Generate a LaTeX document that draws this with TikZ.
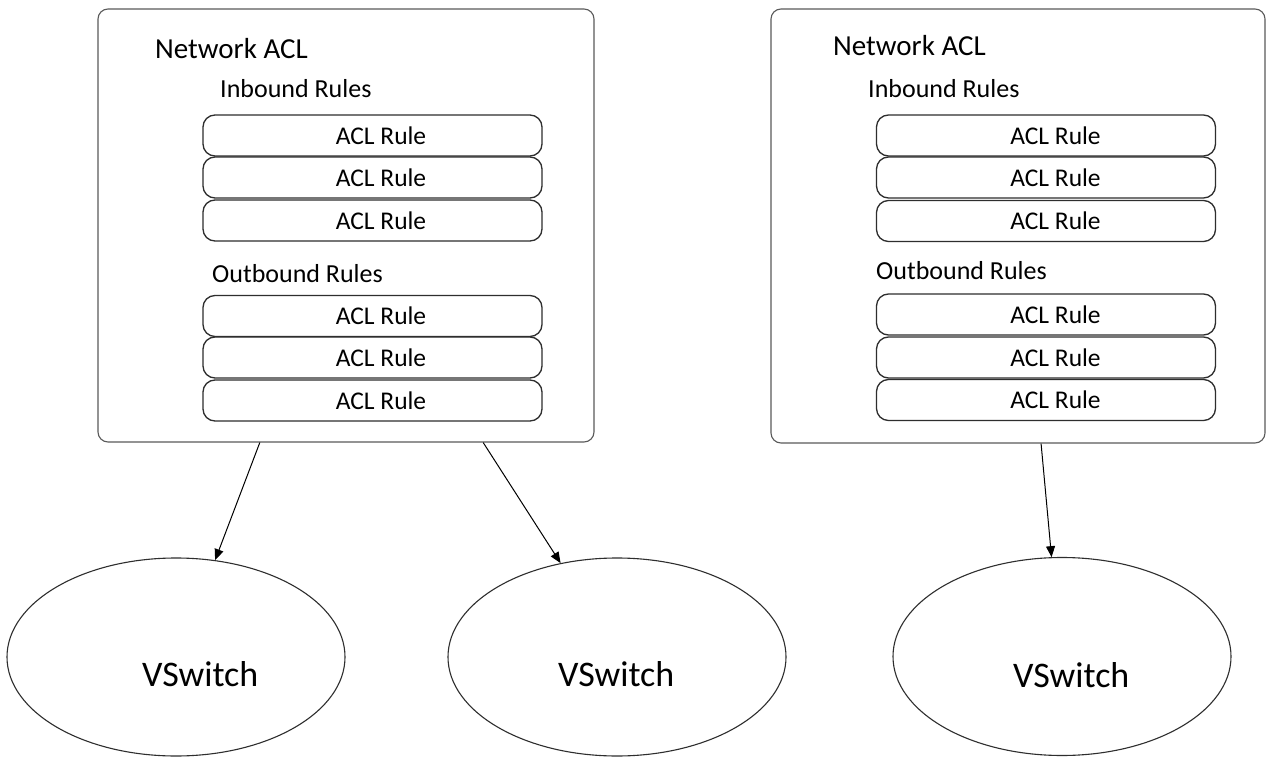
\documentclass[tikz,border=0pt]{standalone}
\usepackage{fontspec}
\setmainfont{Carlito}
\usetikzlibrary{arrows.meta,shapes.geometric,calc}
\definecolor{outerline}{HTML}{5A5A5A}
\definecolor{ruleline}{HTML}{2E2E2E}
\tikzset{
  aclbox/.style={draw=outerline, line width=1.1pt, rounded corners=10pt, inner sep=0pt},
  rulebox/.style={draw=ruleline, line width=1.3pt, rounded corners=12pt, minimum width=339pt, minimum height=41pt, inner sep=0pt, font=\fontsize{25.5}{28}\selectfont},
  titletext/.style={anchor=base west, inner sep=0pt, font=\fontsize{29}{33}\selectfont},
  sectext/.style={anchor=base west, inner sep=0pt, font=\fontsize{26}{29}\selectfont},
  switch/.style={ellipse, draw=ruleline, line width=1.1pt, minimum width=338pt, minimum height=198pt, inner sep=0pt},
  switchtext/.style={anchor=base west, inner sep=0pt, font=\fontsize{36}{40}\selectfont},
  link/.style={draw=black, line width=1pt, -{Triangle[length=11pt,width=9pt]}}
}
\begin{document}
\begin{tikzpicture}[x=1pt,y=-1pt]
\useasboundingbox[fill=white] (0,0) rectangle (1267,757);

% outer ACL boxes
\node[aclbox, minimum width=496pt, minimum height=433pt] (acl1) at (346,225.5) {};
\node[aclbox, minimum width=494pt, minimum height=434pt] (acl2) at (1018,226) {};

% left texts
\node[titletext] (t1) at (155,59) {Network ACL};
\node[sectext] (in1) at (220,98) {Inbound Rules};
\node[sectext] (out1) at (212,282) {Outbound Rules};
% right texts
\node[titletext] (t2) at (833,56) {Network ACL};
\node[sectext] (in2) at (868,98) {Inbound Rules};
\node[sectext] (out2) at (876,279) {Outbound Rules};

% left rules
\node[rulebox] (l1) at (372.5,135.5) {\hspace*{17pt}ACL Rule};
\node[rulebox] (l2) at (372.5,177.5) {\hspace*{17pt}ACL Rule};
\node[rulebox] (l3) at (372.5,220.5) {\hspace*{17pt}ACL Rule};
\node[rulebox] (l4) at (372.5,316) {\hspace*{17pt}ACL Rule};
\node[rulebox] (l5) at (372.5,357.5) {\hspace*{17pt}ACL Rule};
\node[rulebox] (l6) at (372.5,400.5) {\hspace*{17pt}ACL Rule};
% right rules
\node[rulebox] (r1) at (1046,135.5) {\hspace*{19pt}ACL Rule};
\node[rulebox] (r2) at (1046,177.5) {\hspace*{19pt}ACL Rule};
\node[rulebox] (r3) at (1046,221) {\hspace*{19pt}ACL Rule};
\node[rulebox] (r4) at (1046,314.5) {\hspace*{19pt}ACL Rule};
\node[rulebox] (r5) at (1046,357.5) {\hspace*{19pt}ACL Rule};
\node[rulebox] (r6) at (1046,400) {\hspace*{19pt}ACL Rule};

% switches
\node[switch] (e1) at (176,657) {};
\node[switch] (e2) at (617,657) {};
\node[switch] (e3) at (1062,656.5) {};
\node[switchtext] (v1) at (142,686) {VSwitch};
\node[switchtext] (v2) at (558,686) {VSwitch};
\node[switchtext] (v3) at (1013,687) {VSwitch};

% connectors
\coordinate (s1) at ($(acl1.south west)!0.3266!(acl1.south east)$);
\coordinate (s2) at ($(acl1.south west)!0.776!(acl1.south east)$);
\coordinate (s3) at ($(acl2.south west)!0.5466!(acl2.south east)$);
\draw[link] (s1) -- (e1.68);
\draw[link] (s2) -- (e2.121);
\draw[link] (s3) -- (e3.96);
\end{tikzpicture}
\end{document}
